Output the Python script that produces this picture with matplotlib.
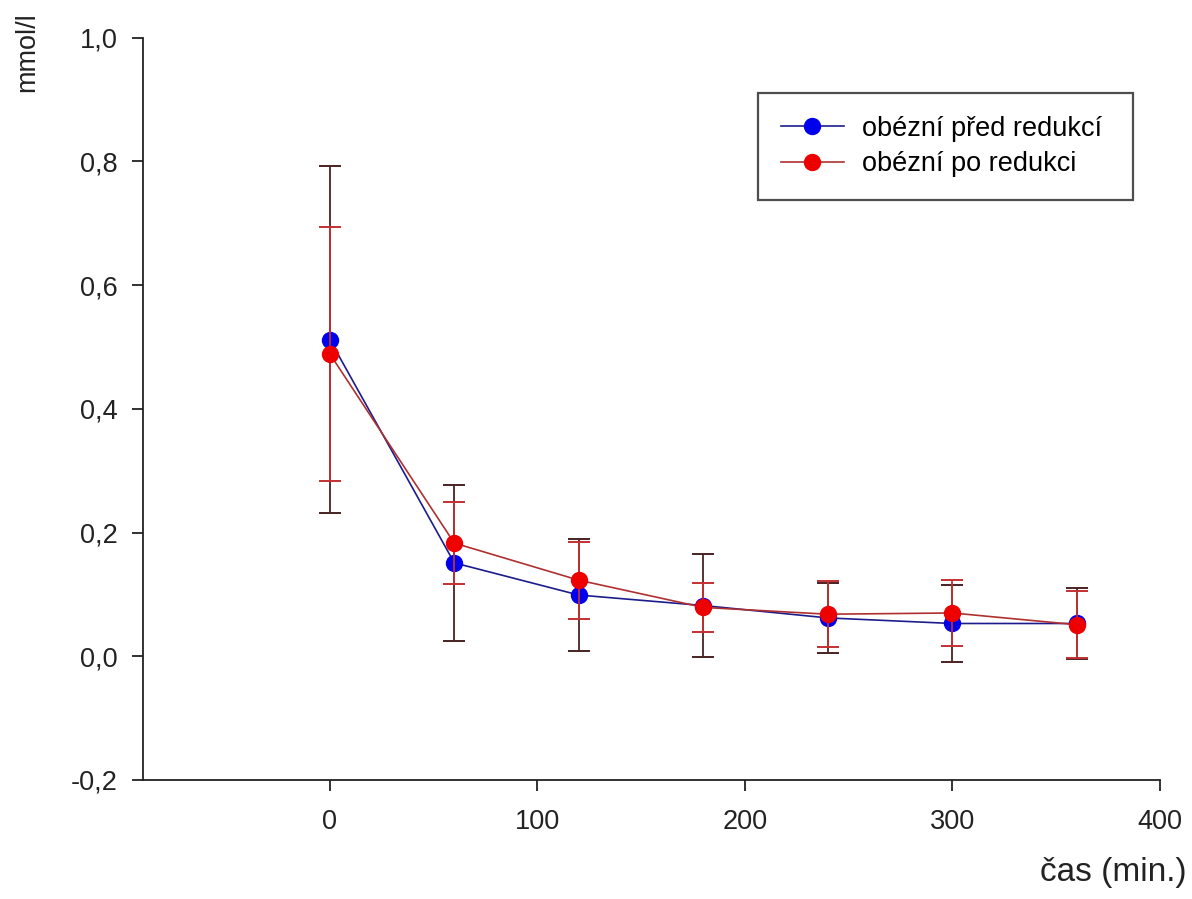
import matplotlib
matplotlib.use("Agg")
import matplotlib.pyplot as plt
from matplotlib.ticker import FuncFormatter

plt.rcParams["font.family"] = ["Liberation Sans", "DejaVu Sans"]

# time points (min.)
time_min = [0, 60, 120, 180, 240, 300, 360]

# obézní před redukcí
before_mean = [0.512, 0.151, 0.099, 0.082, 0.062, 0.053, 0.053]
before_sd = [0.280, 0.126, 0.091, 0.083, 0.056, 0.062, 0.057]

# obézní po redukci
after_mean = [0.489, 0.183, 0.123, 0.079, 0.068, 0.070, 0.051]
after_sd = [0.205, 0.066, 0.062, 0.040, 0.053, 0.054, 0.054]

labels = ["obézní před redukcí", "obézní po redukci"]
x_ticks = [0, 100, 200, 300, 400]
y_ticks = [-0.2, 0.0, 0.2, 0.4, 0.6, 0.8, 1.0]

fig = plt.figure(figsize=(11.92, 8.99), dpi=100)
ax = fig.add_axes([0.120, 0.1324, 0.853, 0.8256])

series = (
    (before_mean, before_sd, "#1c1c8c", "#0000ee", "#4a2222", labels[0], 3),
    (after_mean, after_sd, "#b03030", "#ee0000", "#c43030", labels[1], 4),
)
handles = []
for mean, sd, line_c, mark_c, err_c, label, z in series:
    eb = ax.errorbar(time_min, mean, yerr=sd, color=line_c, linewidth=1.2,
                     marker="o", markersize=11.5, markerfacecolor=mark_c,
                     markeredgecolor=mark_c, ecolor=err_c, elinewidth=1.3,
                     capsize=8, capthick=1.4, label=label, zorder=z)
    for cap in eb[1]:
        cap.set_color("#3c1a1a")
    handles.append(eb[0])

ax.set_xlim(-90, 400)
ax.set_ylim(-0.2, 1.0)
ax.set_xticks(x_ticks)
ax.set_yticks(y_ticks)
ax.yaxis.set_major_formatter(FuncFormatter(lambda v, p: f"{v:.1f}".replace(".", ",").replace("-0,0", "0,0")))

for side in ("top", "right"):
    ax.spines[side].set_visible(False)
for side in ("left", "bottom"):
    ax.spines[side].set_linewidth(1.3)
    ax.spines[side].set_color("#222222")

ax.tick_params(axis="both", direction="out", length=8, width=1.3, labelsize=19.5,
               colors="#222222")
ax.tick_params(axis="y", pad=10)
ax.tick_params(axis="x", pad=13)

leg = ax.legend(handles, labels, loc="upper left",
                bbox_to_anchor=(0.605, 0.726, 0.369, 0.2), mode="expand",
                fontsize=19.5, frameon=True, fancybox=False, borderpad=0.85,
                handlelength=2.3, handletextpad=0.7, labelspacing=0.35,
                borderaxespad=0)
leg.get_frame().set_edgecolor("#222222")
leg.get_frame().set_linewidth(1.6)

fig.text(27 / 1192, 1 - 52 / 899, "mmol/l", rotation=90, ha="center", va="center",
         fontsize=19.5, color="#222222")
fig.text(1187 / 1192, 1 - 881 / 899, "čas (min.)", ha="right", va="baseline",
         fontsize=24, color="#222222")

fig.savefig("out.png", dpi=100)
plt.close(fig)
